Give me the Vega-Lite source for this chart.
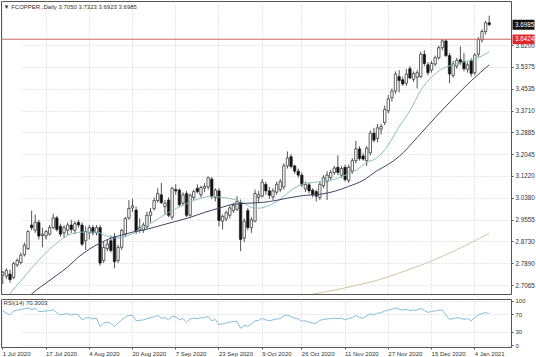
{
"$schema": "https://vega.github.io/schema/vega-lite/v6.json",
"padding": 0,
"autosize": {"type": "pad"},
"background": "white",
"config": {"view": {"stroke": "#555", "strokeWidth": 1}, "font": "Liberation Sans", "axis": {"labelOverlap": false, "labelBound": false}},
"datasets": {
"candles": [
{"d":"1 Jul 2020","o":2.745,"h":2.760,"l":2.710,"c":2.755},
{"d":"2 Jul 2020","o":2.740,"h":2.770,"l":2.730,"c":2.762},
{"d":"3 Jul 2020","o":2.748,"h":2.765,"l":2.715,"c":2.727},
{"d":"6 Jul 2020","o":2.735,"h":2.795,"l":2.730,"c":2.788},
{"d":"7 Jul 2020","o":2.783,"h":2.808,"l":2.775,"c":2.800},
{"d":"8 Jul 2020","o":2.792,"h":2.830,"l":2.785,"c":2.820},
{"d":"9 Jul 2020","o":2.822,"h":2.868,"l":2.815,"c":2.858},
{"d":"10 Jul 2020","o":2.845,"h":2.915,"l":2.840,"c":2.910},
{"d":"13 Jul 2020","o":2.935,"h":2.990,"l":2.915,"c":2.925},
{"d":"14 Jul 2020","o":2.915,"h":2.975,"l":2.905,"c":2.945},
{"d":"15 Jul 2020","o":2.945,"h":2.955,"l":2.880,"c":2.893},
{"d":"16 Jul 2020","o":2.895,"h":2.925,"l":2.850,"c":2.900},
{"d":"17 Jul 2020","o":2.893,"h":2.915,"l":2.880,"c":2.910},
{"d":"20 Jul 2020","o":2.900,"h":2.935,"l":2.895,"c":2.925},
{"d":"21 Jul 2020","o":2.925,"h":2.978,"l":2.920,"c":2.962},
{"d":"22 Jul 2020","o":2.962,"h":2.970,"l":2.910,"c":2.918},
{"d":"23 Jul 2020","o":2.930,"h":2.940,"l":2.890,"c":2.900},
{"d":"24 Jul 2020","o":2.905,"h":2.935,"l":2.885,"c":2.925},
{"d":"27 Jul 2020","o":2.915,"h":2.945,"l":2.895,"c":2.935},
{"d":"28 Jul 2020","o":2.935,"h":2.955,"l":2.905,"c":2.918},
{"d":"29 Jul 2020","o":2.915,"h":2.950,"l":2.900,"c":2.940},
{"d":"30 Jul 2020","o":2.945,"h":2.955,"l":2.925,"c":2.935},
{"d":"31 Jul 2020","o":2.935,"h":2.945,"l":2.855,"c":2.862},
{"d":"3 Aug 2020","o":2.875,"h":2.930,"l":2.840,"c":2.910},
{"d":"4 Aug 2020","o":2.905,"h":2.935,"l":2.880,"c":2.925},
{"d":"5 Aug 2020","o":2.925,"h":2.935,"l":2.895,"c":2.905},
{"d":"6 Aug 2020","o":2.905,"h":2.935,"l":2.895,"c":2.925},
{"d":"7 Aug 2020","o":2.925,"h":2.935,"l":2.780,"c":2.790},
{"d":"10 Aug 2020","o":2.800,"h":2.870,"l":2.790,"c":2.850},
{"d":"11 Aug 2020","o":2.845,"h":2.880,"l":2.835,"c":2.862},
{"d":"12 Aug 2020","o":2.875,"h":2.895,"l":2.830,"c":2.838},
{"d":"13 Aug 2020","o":2.890,"h":2.905,"l":2.770,"c":2.795},
{"d":"14 Aug 2020","o":2.800,"h":2.860,"l":2.790,"c":2.850},
{"d":"17 Aug 2020","o":2.850,"h":2.920,"l":2.840,"c":2.915},
{"d":"18 Aug 2020","o":2.900,"h":2.965,"l":2.890,"c":2.960},
{"d":"19 Aug 2020","o":2.962,"h":3.030,"l":2.955,"c":2.998},
{"d":"20 Aug 2020","o":3.000,"h":3.035,"l":2.985,"c":3.008},
{"d":"21 Aug 2020","o":2.992,"h":3.005,"l":2.900,"c":2.910},
{"d":"24 Aug 2020","o":2.918,"h":2.960,"l":2.905,"c":2.925},
{"d":"25 Aug 2020","o":2.915,"h":2.945,"l":2.905,"c":2.935},
{"d":"26 Aug 2020","o":2.928,"h":2.985,"l":2.920,"c":2.972},
{"d":"27 Aug 2020","o":2.972,"h":3.000,"l":2.945,"c":2.985},
{"d":"28 Aug 2020","o":2.998,"h":3.040,"l":2.990,"c":3.028},
{"d":"31 Aug 2020","o":3.028,"h":3.075,"l":3.020,"c":3.055},
{"d":"1 Sep 2020","o":3.050,"h":3.095,"l":3.015,"c":3.020},
{"d":"2 Sep 2020","o":3.005,"h":3.030,"l":2.975,"c":3.018},
{"d":"3 Sep 2020","o":3.030,"h":3.040,"l":2.965,"c":2.972},
{"d":"4 Sep 2020","o":2.965,"h":3.080,"l":2.955,"c":3.075},
{"d":"7 Sep 2020","o":3.070,"h":3.090,"l":3.050,"c":3.065},
{"d":"8 Sep 2020","o":3.068,"h":3.075,"l":3.005,"c":3.012},
{"d":"9 Sep 2020","o":3.018,"h":3.060,"l":3.010,"c":3.050},
{"d":"10 Sep 2020","o":3.055,"h":3.065,"l":2.965,"c":2.972},
{"d":"11 Sep 2020","o":2.972,"h":3.055,"l":2.965,"c":3.048},
{"d":"14 Sep 2020","o":3.040,"h":3.070,"l":3.030,"c":3.062},
{"d":"15 Sep 2020","o":3.075,"h":3.090,"l":3.055,"c":3.062},
{"d":"16 Sep 2020","o":3.050,"h":3.085,"l":3.040,"c":3.078},
{"d":"17 Sep 2020","o":3.075,"h":3.095,"l":3.060,"c":3.082},
{"d":"18 Sep 2020","o":3.080,"h":3.120,"l":3.070,"c":3.115},
{"d":"21 Sep 2020","o":3.110,"h":3.118,"l":3.035,"c":3.042},
{"d":"22 Sep 2020","o":3.040,"h":3.075,"l":3.025,"c":3.068},
{"d":"23 Sep 2020","o":3.065,"h":3.075,"l":2.930,"c":2.952},
{"d":"24 Sep 2020","o":2.950,"h":2.975,"l":2.918,"c":2.968},
{"d":"25 Sep 2020","o":2.958,"h":2.990,"l":2.950,"c":2.982},
{"d":"28 Sep 2020","o":2.972,"h":3.010,"l":2.960,"c":3.000},
{"d":"29 Sep 2020","o":2.990,"h":3.020,"l":2.980,"c":3.010},
{"d":"30 Sep 2020","o":2.995,"h":3.045,"l":2.988,"c":3.025},
{"d":"1 Oct 2020","o":3.020,"h":3.032,"l":2.835,"c":2.880},
{"d":"2 Oct 2020","o":2.885,"h":2.960,"l":2.870,"c":2.950},
{"d":"5 Oct 2020","o":2.990,"h":3.000,"l":2.915,"c":2.925},
{"d":"6 Oct 2020","o":2.925,"h":2.965,"l":2.905,"c":2.955},
{"d":"7 Oct 2020","o":2.950,"h":3.070,"l":2.945,"c":3.055},
{"d":"8 Oct 2020","o":3.040,"h":3.065,"l":3.020,"c":3.050},
{"d":"9 Oct 2020","o":3.045,"h":3.110,"l":3.040,"c":3.098},
{"d":"12 Oct 2020","o":3.090,"h":3.100,"l":3.050,"c":3.065},
{"d":"13 Oct 2020","o":3.065,"h":3.080,"l":3.035,"c":3.048},
{"d":"14 Oct 2020","o":3.042,"h":3.075,"l":3.030,"c":3.065},
{"d":"15 Oct 2020","o":3.060,"h":3.100,"l":3.050,"c":3.090},
{"d":"16 Oct 2020","o":3.070,"h":3.110,"l":3.060,"c":3.100},
{"d":"19 Oct 2020","o":3.080,"h":3.170,"l":3.070,"c":3.160},
{"d":"20 Oct 2020","o":3.160,"h":3.215,"l":3.150,"c":3.190},
{"d":"21 Oct 2020","o":3.195,"h":3.205,"l":3.150,"c":3.158},
{"d":"22 Oct 2020","o":3.160,"h":3.165,"l":3.130,"c":3.140},
{"d":"23 Oct 2020","o":3.140,"h":3.150,"l":3.115,"c":3.125},
{"d":"26 Oct 2020","o":3.125,"h":3.135,"l":3.080,"c":3.088},
{"d":"27 Oct 2020","o":3.072,"h":3.100,"l":3.060,"c":3.090},
{"d":"28 Oct 2020","o":3.088,"h":3.095,"l":3.055,"c":3.065},
{"d":"29 Oct 2020","o":3.068,"h":3.075,"l":3.040,"c":3.050},
{"d":"30 Oct 2020","o":3.062,"h":3.070,"l":3.025,"c":3.045},
{"d":"2 Nov 2020","o":3.040,"h":3.100,"l":3.030,"c":3.090},
{"d":"3 Nov 2020","o":3.085,"h":3.125,"l":3.075,"c":3.115},
{"d":"4 Nov 2020","o":3.100,"h":3.140,"l":3.030,"c":3.125},
{"d":"5 Nov 2020","o":3.115,"h":3.145,"l":3.105,"c":3.135},
{"d":"6 Nov 2020","o":3.135,"h":3.160,"l":3.125,"c":3.152},
{"d":"9 Nov 2020","o":3.155,"h":3.200,"l":3.125,"c":3.135},
{"d":"10 Nov 2020","o":3.125,"h":3.160,"l":3.115,"c":3.150},
{"d":"11 Nov 2020","o":3.155,"h":3.165,"l":3.100,"c":3.108},
{"d":"12 Nov 2020","o":3.105,"h":3.165,"l":3.095,"c":3.155},
{"d":"13 Nov 2020","o":3.140,"h":3.190,"l":3.130,"c":3.180},
{"d":"16 Nov 2020","o":3.180,"h":3.255,"l":3.170,"c":3.225},
{"d":"17 Nov 2020","o":3.225,"h":3.235,"l":3.180,"c":3.188},
{"d":"18 Nov 2020","o":3.198,"h":3.210,"l":3.180,"c":3.186},
{"d":"19 Nov 2020","o":3.180,"h":3.235,"l":3.160,"c":3.228},
{"d":"20 Nov 2020","o":3.210,"h":3.295,"l":3.200,"c":3.285},
{"d":"23 Nov 2020","o":3.285,"h":3.305,"l":3.250,"c":3.258},
{"d":"24 Nov 2020","o":3.265,"h":3.320,"l":3.250,"c":3.305},
{"d":"25 Nov 2020","o":3.300,"h":3.320,"l":3.280,"c":3.310},
{"d":"26 Nov 2020","o":3.325,"h":3.390,"l":3.315,"c":3.375},
{"d":"27 Nov 2020","o":3.370,"h":3.430,"l":3.360,"c":3.415},
{"d":"30 Nov 2020","o":3.420,"h":3.455,"l":3.405,"c":3.445},
{"d":"1 Dec 2020","o":3.445,"h":3.520,"l":3.435,"c":3.510},
{"d":"2 Dec 2020","o":3.500,"h":3.525,"l":3.440,"c":3.485},
{"d":"3 Dec 2020","o":3.488,"h":3.500,"l":3.465,"c":3.472},
{"d":"4 Dec 2020","o":3.475,"h":3.530,"l":3.465,"c":3.510},
{"d":"7 Dec 2020","o":3.530,"h":3.540,"l":3.490,"c":3.495},
{"d":"8 Dec 2020","o":3.490,"h":3.520,"l":3.480,"c":3.512},
{"d":"9 Dec 2020","o":3.498,"h":3.525,"l":3.455,"c":3.515},
{"d":"10 Dec 2020","o":3.500,"h":3.595,"l":3.495,"c":3.585},
{"d":"11 Dec 2020","o":3.585,"h":3.600,"l":3.540,"c":3.550},
{"d":"14 Dec 2020","o":3.545,"h":3.555,"l":3.505,"c":3.515},
{"d":"15 Dec 2020","o":3.525,"h":3.560,"l":3.515,"c":3.550},
{"d":"16 Dec 2020","o":3.548,"h":3.580,"l":3.540,"c":3.572},
{"d":"17 Dec 2020","o":3.572,"h":3.618,"l":3.565,"c":3.610},
{"d":"18 Dec 2020","o":3.610,"h":3.6424,"l":3.600,"c":3.636},
{"d":"21 Dec 2020","o":3.636,"h":3.642,"l":3.575,"c":3.580},
{"d":"22 Dec 2020","o":3.580,"h":3.590,"l":3.475,"c":3.510},
{"d":"23 Dec 2020","o":3.505,"h":3.560,"l":3.495,"c":3.548},
{"d":"24 Dec 2020","o":3.540,"h":3.572,"l":3.530,"c":3.562},
{"d":"28 Dec 2020","o":3.565,"h":3.615,"l":3.545,"c":3.552},
{"d":"29 Dec 2020","o":3.558,"h":3.590,"l":3.520,"c":3.530},
{"d":"30 Dec 2020","o":3.528,"h":3.555,"l":3.515,"c":3.545},
{"d":"31 Dec 2020","o":3.560,"h":3.570,"l":3.500,"c":3.512},
{"d":"4 Jan 2021","o":3.515,"h":3.590,"l":3.505,"c":3.582},
{"d":"5 Jan 2021","o":3.585,"h":3.650,"l":3.575,"c":3.642},
{"d":"6 Jan 2021","o":3.640,"h":3.680,"l":3.630,"c":3.672},
{"d":"7 Jan 2021","o":3.672,"h":3.712,"l":3.660,"c":3.705},
{"d":"8 Jan 2021","o":3.705,"h":3.7323,"l":3.6923,"c":3.6985}
],
"ma20": [
{"d":"2 Jul 2020","v":2.655},{"d":"6 Jul 2020","v":2.691},{"d":"8 Jul 2020","v":2.722},{"d":"13 Jul 2020","v":2.771},{"d":"15 Jul 2020","v":2.801},{"d":"20 Jul 2020","v":2.843},{"d":"23 Jul 2020","v":2.877},{"d":"27 Jul 2020","v":2.896},{"d":"31 Jul 2020","v":2.908},{"d":"6 Aug 2020","v":2.908},{"d":"11 Aug 2020","v":2.892},{"d":"14 Aug 2020","v":2.885},{"d":"19 Aug 2020","v":2.896},{"d":"24 Aug 2020","v":2.919},{"d":"28 Aug 2020","v":2.949},{"d":"3 Sep 2020","v":2.983},{"d":"9 Sep 2020","v":3.010},{"d":"15 Sep 2020","v":3.033},{"d":"21 Sep 2020","v":3.044},{"d":"24 Sep 2020","v":3.040},{"d":"29 Sep 2020","v":3.033},{"d":"2 Oct 2020","v":3.018},{"d":"6 Oct 2020","v":3.002},{"d":"8 Oct 2020","v":2.999},{"d":"13 Oct 2020","v":3.010},{"d":"16 Oct 2020","v":3.033},{"d":"21 Oct 2020","v":3.067},{"d":"26 Oct 2020","v":3.090},{"d":"29 Oct 2020","v":3.097},{"d":"3 Nov 2020","v":3.101},{"d":"6 Nov 2020","v":3.109},{"d":"11 Nov 2020","v":3.124},{"d":"16 Nov 2020","v":3.143},{"d":"19 Nov 2020","v":3.173},{"d":"24 Nov 2020","v":3.192},{"d":"27 Nov 2020","v":3.240},{"d":"2 Dec 2020","v":3.310},{"d":"7 Dec 2020","v":3.370},{"d":"10 Dec 2020","v":3.448},{"d":"15 Dec 2020","v":3.498},{"d":"18 Dec 2020","v":3.530},{"d":"23 Dec 2020","v":3.545},{"d":"29 Dec 2020","v":3.556},{"d":"4 Jan 2021","v":3.568},{"d":"6 Jan 2021","v":3.579},{"d":"8 Jan 2021","v":3.594}
],
"ma50": [
{"d":"10 Jul 2020","v":2.660},{"d":"14 Jul 2020","v":2.684},{"d":"17 Jul 2020","v":2.714},{"d":"22 Jul 2020","v":2.744},{"d":"27 Jul 2020","v":2.775},{"d":"30 Jul 2020","v":2.813},{"d":"4 Aug 2020","v":2.843},{"d":"7 Aug 2020","v":2.866},{"d":"12 Aug 2020","v":2.885},{"d":"17 Aug 2020","v":2.896},{"d":"20 Aug 2020","v":2.908},{"d":"26 Aug 2020","v":2.919},{"d":"1 Sep 2020","v":2.934},{"d":"7 Sep 2020","v":2.949},{"d":"11 Sep 2020","v":2.964},{"d":"17 Sep 2020","v":2.983},{"d":"23 Sep 2020","v":2.999},{"d":"29 Sep 2020","v":3.014},{"d":"5 Oct 2020","v":3.018},{"d":"9 Oct 2020","v":3.021},{"d":"15 Oct 2020","v":3.029},{"d":"21 Oct 2020","v":3.040},{"d":"27 Oct 2020","v":3.048},{"d":"2 Nov 2020","v":3.052},{"d":"6 Nov 2020","v":3.063},{"d":"12 Nov 2020","v":3.082},{"d":"18 Nov 2020","v":3.105},{"d":"24 Nov 2020","v":3.143},{"d":"27 Nov 2020","v":3.166},{"d":"2 Dec 2020","v":3.196},{"d":"9 Dec 2020","v":3.268},{"d":"16 Dec 2020","v":3.344},{"d":"23 Dec 2020","v":3.416},{"d":"31 Dec 2020","v":3.484},{"d":"8 Jan 2021","v":3.545}
],
"ma200": [
{"d":"21 Oct 2020","v":2.655},{"d":"29 Oct 2020","v":2.672},{"d":"6 Nov 2020","v":2.687},{"d":"16 Nov 2020","v":2.705},{"d":"24 Nov 2020","v":2.725},{"d":"2 Dec 2020","v":2.752},{"d":"10 Dec 2020","v":2.782},{"d":"18 Dec 2020","v":2.816},{"d":"29 Dec 2020","v":2.854},{"d":"8 Jan 2021","v":2.904}
],
"rsi": [
{"d":"1 Jul 2020","v":78},{"d":"2 Jul 2020","v":72},{"d":"3 Jul 2020","v":68},{"d":"6 Jul 2020","v":77},{"d":"7 Jul 2020","v":79},{"d":"8 Jul 2020","v":80},{"d":"9 Jul 2020","v":82},{"d":"10 Jul 2020","v":84},{"d":"13 Jul 2020","v":80},{"d":"14 Jul 2020","v":83},{"d":"15 Jul 2020","v":76},{"d":"16 Jul 2020","v":76},{"d":"17 Jul 2020","v":77},{"d":"20 Jul 2020","v":78},{"d":"21 Jul 2020","v":80},{"d":"22 Jul 2020","v":73},{"d":"23 Jul 2020","v":68},{"d":"24 Jul 2020","v":70},{"d":"27 Jul 2020","v":71},{"d":"28 Jul 2020","v":68},{"d":"29 Jul 2020","v":70},{"d":"30 Jul 2020","v":68},{"d":"31 Jul 2020","v":57},{"d":"3 Aug 2020","v":61},{"d":"4 Aug 2020","v":62},{"d":"5 Aug 2020","v":59},{"d":"6 Aug 2020","v":61},{"d":"7 Aug 2020","v":42},{"d":"10 Aug 2020","v":50},{"d":"11 Aug 2020","v":52},{"d":"12 Aug 2020","v":49},{"d":"13 Aug 2020","v":42},{"d":"14 Aug 2020","v":50},{"d":"17 Aug 2020","v":57},{"d":"18 Aug 2020","v":63},{"d":"19 Aug 2020","v":67},{"d":"20 Aug 2020","v":67},{"d":"21 Aug 2020","v":55},{"d":"24 Aug 2020","v":56},{"d":"25 Aug 2020","v":57},{"d":"26 Aug 2020","v":60},{"d":"27 Aug 2020","v":62},{"d":"28 Aug 2020","v":64},{"d":"31 Aug 2020","v":67},{"d":"1 Sep 2020","v":61},{"d":"2 Sep 2020","v":62},{"d":"3 Sep 2020","v":57},{"d":"4 Sep 2020","v":65},{"d":"7 Sep 2020","v":64},{"d":"8 Sep 2020","v":57},{"d":"9 Sep 2020","v":60},{"d":"10 Sep 2020","v":52},{"d":"11 Sep 2020","v":59},{"d":"14 Sep 2020","v":61},{"d":"15 Sep 2020","v":60},{"d":"16 Sep 2020","v":62},{"d":"17 Sep 2020","v":62},{"d":"18 Sep 2020","v":65},{"d":"21 Sep 2020","v":55},{"d":"22 Sep 2020","v":58},{"d":"23 Sep 2020","v":46},{"d":"24 Sep 2020","v":48},{"d":"25 Sep 2020","v":50},{"d":"28 Sep 2020","v":52},{"d":"29 Sep 2020","v":53},{"d":"30 Sep 2020","v":54},{"d":"1 Oct 2020","v":38},{"d":"2 Oct 2020","v":45},{"d":"5 Oct 2020","v":43},{"d":"6 Oct 2020","v":47},{"d":"7 Oct 2020","v":55},{"d":"8 Oct 2020","v":56},{"d":"9 Oct 2020","v":60},{"d":"12 Oct 2020","v":57},{"d":"13 Oct 2020","v":55},{"d":"14 Oct 2020","v":57},{"d":"15 Oct 2020","v":59},{"d":"16 Oct 2020","v":60},{"d":"19 Oct 2020","v":66},{"d":"20 Oct 2020","v":68},{"d":"21 Oct 2020","v":64},{"d":"22 Oct 2020","v":61},{"d":"23 Oct 2020","v":59},{"d":"26 Oct 2020","v":54},{"d":"27 Oct 2020","v":55},{"d":"28 Oct 2020","v":52},{"d":"29 Oct 2020","v":50},{"d":"30 Oct 2020","v":49},{"d":"2 Nov 2020","v":56},{"d":"3 Nov 2020","v":58},{"d":"4 Nov 2020","v":59},{"d":"5 Nov 2020","v":60},{"d":"6 Nov 2020","v":61},{"d":"9 Nov 2020","v":60},{"d":"10 Nov 2020","v":61},{"d":"11 Nov 2020","v":57},{"d":"12 Nov 2020","v":60},{"d":"13 Nov 2020","v":62},{"d":"16 Nov 2020","v":67},{"d":"17 Nov 2020","v":62},{"d":"18 Nov 2020","v":61},{"d":"19 Nov 2020","v":66},{"d":"20 Nov 2020","v":71},{"d":"23 Nov 2020","v":68},{"d":"24 Nov 2020","v":72},{"d":"25 Nov 2020","v":73},{"d":"26 Nov 2020","v":77},{"d":"27 Nov 2020","v":79},{"d":"30 Nov 2020","v":81},{"d":"1 Dec 2020","v":84},{"d":"2 Dec 2020","v":81},{"d":"3 Dec 2020","v":79},{"d":"4 Dec 2020","v":81},{"d":"7 Dec 2020","v":78},{"d":"8 Dec 2020","v":79},{"d":"9 Dec 2020","v":79},{"d":"10 Dec 2020","v":83},{"d":"11 Dec 2020","v":78},{"d":"14 Dec 2020","v":74},{"d":"15 Dec 2020","v":76},{"d":"16 Dec 2020","v":77},{"d":"17 Dec 2020","v":79},{"d":"18 Dec 2020","v":79},{"d":"21 Dec 2020","v":68},{"d":"22 Dec 2020","v":58},{"d":"23 Dec 2020","v":60},{"d":"24 Dec 2020","v":62},{"d":"28 Dec 2020","v":61},{"d":"29 Dec 2020","v":58},{"d":"30 Dec 2020","v":60},{"d":"31 Dec 2020","v":55},{"d":"4 Jan 2021","v":62},{"d":"5 Jan 2021","v":68},{"d":"6 Jan 2021","v":71},{"d":"7 Jan 2021","v":74},{"d":"8 Jan 2021","v":70.3}
]
},
"spacing": 2,
"vconcat": [
{
"width": 510,
"height": 293,
"resolve": {"scale": {"x": "independent"}, "axis": {"x": "independent"}},
"layer": [
{
"layer": [
{
"data": {"name": "candles"},
"mark": {"type": "rule", "color": "#2a2a2a", "strokeWidth": 0.8},
"encoding": {
"x": {"field": "d", "type": "ordinal", "sort": null,
"scale": {"type": "band", "range": [0, 490], "paddingInner": 0, "paddingOuter": 0,
"domain": ["1 Jul 2020","2 Jul 2020","3 Jul 2020","6 Jul 2020","7 Jul 2020","8 Jul 2020","9 Jul 2020","10 Jul 2020","13 Jul 2020","14 Jul 2020","15 Jul 2020","16 Jul 2020","17 Jul 2020","20 Jul 2020","21 Jul 2020","22 Jul 2020","23 Jul 2020","24 Jul 2020","27 Jul 2020","28 Jul 2020","29 Jul 2020","30 Jul 2020","31 Jul 2020","3 Aug 2020","4 Aug 2020","5 Aug 2020","6 Aug 2020","7 Aug 2020","10 Aug 2020","11 Aug 2020","12 Aug 2020","13 Aug 2020","14 Aug 2020","17 Aug 2020","18 Aug 2020","19 Aug 2020","20 Aug 2020","21 Aug 2020","24 Aug 2020","25 Aug 2020","26 Aug 2020","27 Aug 2020","28 Aug 2020","31 Aug 2020","1 Sep 2020","2 Sep 2020","3 Sep 2020","4 Sep 2020","7 Sep 2020","8 Sep 2020","9 Sep 2020","10 Sep 2020","11 Sep 2020","14 Sep 2020","15 Sep 2020","16 Sep 2020","17 Sep 2020","18 Sep 2020","21 Sep 2020","22 Sep 2020","23 Sep 2020","24 Sep 2020","25 Sep 2020","28 Sep 2020","29 Sep 2020","30 Sep 2020","1 Oct 2020","2 Oct 2020","5 Oct 2020","6 Oct 2020","7 Oct 2020","8 Oct 2020","9 Oct 2020","12 Oct 2020","13 Oct 2020","14 Oct 2020","15 Oct 2020","16 Oct 2020","19 Oct 2020","20 Oct 2020","21 Oct 2020","22 Oct 2020","23 Oct 2020","26 Oct 2020","27 Oct 2020","28 Oct 2020","29 Oct 2020","30 Oct 2020","2 Nov 2020","3 Nov 2020","4 Nov 2020","5 Nov 2020","6 Nov 2020","9 Nov 2020","10 Nov 2020","11 Nov 2020","12 Nov 2020","13 Nov 2020","16 Nov 2020","17 Nov 2020","18 Nov 2020","19 Nov 2020","20 Nov 2020","23 Nov 2020","24 Nov 2020","25 Nov 2020","26 Nov 2020","27 Nov 2020","30 Nov 2020","1 Dec 2020","2 Dec 2020","3 Dec 2020","4 Dec 2020","7 Dec 2020","8 Dec 2020","9 Dec 2020","10 Dec 2020","11 Dec 2020","14 Dec 2020","15 Dec 2020","16 Dec 2020","17 Dec 2020","18 Dec 2020","21 Dec 2020","22 Dec 2020","23 Dec 2020","24 Dec 2020","28 Dec 2020","29 Dec 2020","30 Dec 2020","31 Dec 2020","4 Jan 2021","5 Jan 2021","6 Jan 2021","7 Jan 2021","8 Jan 2021"]},
"axis": {"values": ["1 Jul 2020","17 Jul 2020","4 Aug 2020","20 Aug 2020","7 Sep 2020","23 Sep 2020","9 Oct 2020","26 Oct 2020","11 Nov 2020","27 Nov 2020","15 Dec 2020","4 Jan 2021"],
"labels": false, "ticks": false, "domain": false, "title": null, "grid": true, "gridColor": "#c2c2c2", "gridDash": [1, 2], "gridWidth": 0.8, "bandPosition": 0.5}},
"y": {"field": "l", "type": "quantitative",
"scale": {"domain": [2.6723, 3.788], "nice": false, "zero": false},
"axis": {"orient": "right", "values": [3.62, 3.5375, 3.4535, 3.371, 3.2885, 3.2045, 3.122, 3.038, 2.9555, 2.873, 2.789, 2.7065], "tickCount": 30,
"format": ".4f", "title": null, "grid": true, "gridColor": "#c2c2c2", "gridDash": [1, 2], "gridWidth": 0.8, "labelOverlap": false, "labelBound": false,
"domain": false, "tickSize": 2, "tickColor": "#555", "labelFontSize": 6.3, "labelColor": "#333", "labelPadding": 2, "labelFont": "Liberation Sans"}},
"y2": {"field": "h"}
}
},
{
"data": {"name": "candles"},
"mark": {"type": "bar", "size": 2.4, "stroke": "#222", "strokeWidth": 0.7},
"encoding": {
"x": {"field": "d", "type": "ordinal", "sort": null},
"y": {"field": "o", "type": "quantitative"},
"y2": {"field": "c"},
"fill": {"condition": {"test": "datum.c >= datum.o", "value": "#ffffff"}, "value": "#111111"}
}
},
{
"data": {"name": "ma20"},
"mark": {"type": "line", "color": "#8dbfc3", "strokeWidth": 1, "clip": true, "interpolate": "monotone"},
"encoding": {"x": {"field": "d", "type": "ordinal", "sort": null}, "y": {"field": "v", "type": "quantitative"}}
},
{
"data": {"name": "ma50"},
"mark": {"type": "line", "color": "#3c4766", "strokeWidth": 1, "clip": true, "interpolate": "monotone"},
"encoding": {"x": {"field": "d", "type": "ordinal", "sort": null}, "y": {"field": "v", "type": "quantitative"}}
},
{
"data": {"name": "ma200"},
"mark": {"type": "line", "color": "#d6c4a0", "strokeWidth": 1, "clip": true, "interpolate": "monotone"},
"encoding": {"x": {"field": "d", "type": "ordinal", "sort": null}, "y": {"field": "v", "type": "quantitative"}}
}
]
},
{
"data": {"values": [{}]},
"layer": [
{
"mark": {"type": "rule", "color": "#cc6666", "strokeWidth": 1},
"encoding": {"y": {"datum": 3.6424, "type": "quantitative"}}
},
{
"mark": {"type": "rect", "color": "#111111"},
"encoding": {
"x": {"datum": 1.003, "type": "quantitative", "scale": {"domain": [0, 1], "nice": false, "zero": false}, "axis": null},
"x2": {"datum": 1.046},
"y": {"datum": 3.7165, "type": "quantitative"},
"y2": {"datum": 3.679}
}
},
{
"mark": {"type": "text", "color": "#ffffff", "fontSize": 6.3, "align": "left", "baseline": "middle", "font": "Liberation Sans"},
"encoding": {
"x": {"datum": 1.008, "type": "quantitative"},
"y": {"datum": 3.6985, "type": "quantitative"},
"text": {"value": "3.6985"}
}
},
{
"mark": {"type": "rect", "color": "#e0282c"},
"encoding": {
"x": {"datum": 1.003, "type": "quantitative"},
"x2": {"datum": 1.046},
"y": {"datum": 3.6609, "type": "quantitative"},
"y2": {"datum": 3.6229}
}
},
{
"mark": {"type": "text", "color": "#ffffff", "fontSize": 6.3, "align": "left", "baseline": "middle", "font": "Liberation Sans"},
"encoding": {
"x": {"datum": 1.008, "type": "quantitative"},
"y": {"datum": 3.6424, "type": "quantitative"},
"text": {"value": "3.6424"}
}
},
{
"mark": {"type": "text", "color": "#333333", "fontSize": 6, "align": "left", "baseline": "middle", "font": "Liberation Sans"},
"encoding": {
"x": {"datum": 0.005, "type": "quantitative"},
"y": {"datum": 3.7655, "type": "quantitative"},
"text": {"value": "▼ FCOPPER.,Daily  3.7050 3.7323 3.6923 3.6985"}
}
}
]
}
]
},
{
"width": 510,
"height": 48,
"resolve": {"scale": {"x": "independent"}, "axis": {"x": "independent"}},
"layer": [
{
"data": {"name": "rsi"},
"mark": {"type": "line", "color": "#85bddb", "strokeWidth": 1, "clip": true},
"encoding": {
"x": {"field": "d", "type": "ordinal", "sort": null,
"scale": {"type": "band", "range": [0, 490], "paddingInner": 0, "paddingOuter": 0,
"domain": ["1 Jul 2020","2 Jul 2020","3 Jul 2020","6 Jul 2020","7 Jul 2020","8 Jul 2020","9 Jul 2020","10 Jul 2020","13 Jul 2020","14 Jul 2020","15 Jul 2020","16 Jul 2020","17 Jul 2020","20 Jul 2020","21 Jul 2020","22 Jul 2020","23 Jul 2020","24 Jul 2020","27 Jul 2020","28 Jul 2020","29 Jul 2020","30 Jul 2020","31 Jul 2020","3 Aug 2020","4 Aug 2020","5 Aug 2020","6 Aug 2020","7 Aug 2020","10 Aug 2020","11 Aug 2020","12 Aug 2020","13 Aug 2020","14 Aug 2020","17 Aug 2020","18 Aug 2020","19 Aug 2020","20 Aug 2020","21 Aug 2020","24 Aug 2020","25 Aug 2020","26 Aug 2020","27 Aug 2020","28 Aug 2020","31 Aug 2020","1 Sep 2020","2 Sep 2020","3 Sep 2020","4 Sep 2020","7 Sep 2020","8 Sep 2020","9 Sep 2020","10 Sep 2020","11 Sep 2020","14 Sep 2020","15 Sep 2020","16 Sep 2020","17 Sep 2020","18 Sep 2020","21 Sep 2020","22 Sep 2020","23 Sep 2020","24 Sep 2020","25 Sep 2020","28 Sep 2020","29 Sep 2020","30 Sep 2020","1 Oct 2020","2 Oct 2020","5 Oct 2020","6 Oct 2020","7 Oct 2020","8 Oct 2020","9 Oct 2020","12 Oct 2020","13 Oct 2020","14 Oct 2020","15 Oct 2020","16 Oct 2020","19 Oct 2020","20 Oct 2020","21 Oct 2020","22 Oct 2020","23 Oct 2020","26 Oct 2020","27 Oct 2020","28 Oct 2020","29 Oct 2020","30 Oct 2020","2 Nov 2020","3 Nov 2020","4 Nov 2020","5 Nov 2020","6 Nov 2020","9 Nov 2020","10 Nov 2020","11 Nov 2020","12 Nov 2020","13 Nov 2020","16 Nov 2020","17 Nov 2020","18 Nov 2020","19 Nov 2020","20 Nov 2020","23 Nov 2020","24 Nov 2020","25 Nov 2020","26 Nov 2020","27 Nov 2020","30 Nov 2020","1 Dec 2020","2 Dec 2020","3 Dec 2020","4 Dec 2020","7 Dec 2020","8 Dec 2020","9 Dec 2020","10 Dec 2020","11 Dec 2020","14 Dec 2020","15 Dec 2020","16 Dec 2020","17 Dec 2020","18 Dec 2020","21 Dec 2020","22 Dec 2020","23 Dec 2020","24 Dec 2020","28 Dec 2020","29 Dec 2020","30 Dec 2020","31 Dec 2020","4 Jan 2021","5 Jan 2021","6 Jan 2021","7 Jan 2021","8 Jan 2021"]},
"axis": {"values": ["1 Jul 2020","17 Jul 2020","4 Aug 2020","20 Aug 2020","7 Sep 2020","23 Sep 2020","9 Oct 2020","26 Oct 2020","11 Nov 2020","27 Nov 2020","15 Dec 2020","4 Jan 2021"],
"labelAlign": "left", "labelAngle": 0, "labelFontSize": 6, "labelColor": "#333", "labelFont": "Liberation Sans", "labelPadding": 1, "labelOverlap": false, "labelBound": false,
"tickSize": 2, "tickColor": "#555", "domain": false, "title": null, "grid": true, "gridColor": "#c2c2c2", "gridDash": [1, 2], "gridWidth": 0.8, "bandPosition": 0.5}},
"y": {"field": "v", "type": "quantitative",
"scale": {"domain": [-4, 104], "nice": false, "zero": false},
"axis": {"orient": "right", "values": [0, 30, 70, 100], "tickCount": 20, "title": null, "grid": true, "gridColor": "#c2c2c2", "gridDash": [1, 2], "gridWidth": 0.8, "labelOverlap": false, "labelBound": false,
"domain": false, "tickSize": 2, "tickColor": "#555", "labelFontSize": 6, "labelColor": "#333", "labelPadding": 2, "labelFont": "Liberation Sans"}}
}
},
{
"data": {"values": [{}]},
"mark": {"type": "text", "color": "#333333", "fontSize": 6, "align": "left", "baseline": "middle", "font": "Liberation Sans"},
"encoding": {
"x": {"datum": 0.005, "type": "quantitative", "scale": {"domain": [0, 1], "nice": false, "zero": false}, "axis": null},
"y": {"datum": 94, "type": "quantitative"},
"text": {"value": "RSI(14) 70.3003"}
}
}
]
}
]
}
